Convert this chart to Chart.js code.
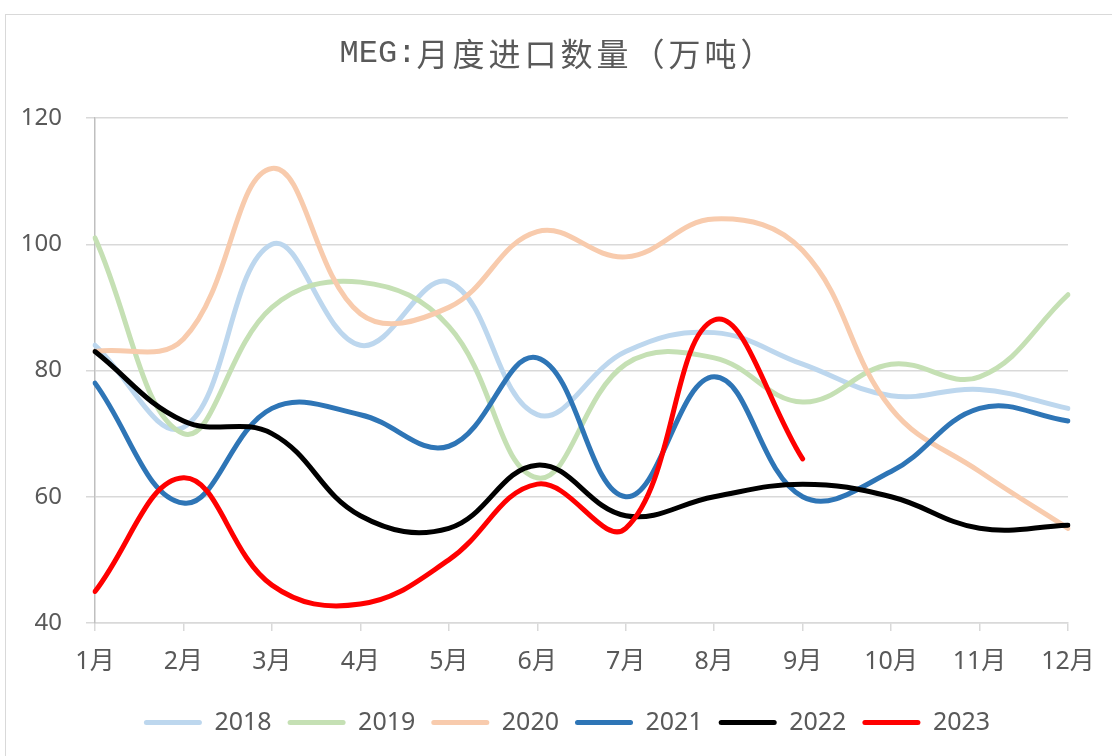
<!DOCTYPE html>
<html>
<head>
<meta charset="utf-8">
<script src="https://cdn.jsdelivr.net/npm/chart.js@4"></script>
<style>
  html, body { margin: 0; padding: 0; background: #fff; }
  #wrap { position: relative; width: 1112px; height: 756px; overflow: hidden; }
  #frame { position: absolute; left: 5px; top: 14px; width: 1200px; height: 800px; border: 1px solid #d9d9d9; }
  canvas { position: absolute; left: 0; top: 0; }
</style>
</head>
<body>
<div id="wrap">
  <div id="frame"></div>
  <canvas id="grafico" width="1112" height="756"></canvas>
</div>
<script>
// dados (万吨)
const meses = ['1月', '2月', '3月', '4月', '5月', '6月', '7月', '8月', '9月', '10月', '11月', '12月'];
const anos = ['2018', '2019', '2020', '2021', '2022', '2023'];
const v2018 = [84, 71, 100, 84, 94, 73, 83, 86, 81, 76, 77, 74];
const v2019 = [101, 70, 90, 94, 87, 63, 81, 82, 75, 81, 79, 92];
const v2020 = [83, 85, 112, 89, 90, 102, 98, 104, 99, 74, 64, 55];
const v2021 = [78, 59, 74, 73, 68, 82, 60, 79, 60, 64, 74, 72];
const v2022 = [83, 72, 70, 57, 55, 65, 57, 60, 62, 60, 55, 55.5];
const v2023 = [45, 63, 46, 43, 50, 62, 55, 88, 66];
const yTicks = [40, 60, 80, 100, 120];

const cores = ['#BDD7EE', '#C5E0B4', '#F8CBAD', '#2E75B6', '#000000', '#FF0000'];
const series = [v2018, v2019, v2020, v2021, v2022, v2023];

const corTexto = '#595959';
const fonteEixo = '"Noto Sans", "Noto Sans CJK SC", sans-serif';

// título com espaçamento entre letras
const tituloPlugin = {
  id: 'tituloEspacado',
  afterLayout(chart) {
    // legenda um pouco deslocada para a direita, como no original
    if (chart.legend) {
      chart.legend.left += 33;
      chart.legend.right += 33;
    }
  },
  afterDraw(chart) {
    const ctx = chart.ctx;
    const parte1 = 'MEG:';
    const parte2 = '月度进口数量（万吨）';
    const f1 = '32px "Liberation Mono", "Noto Sans CJK SC", monospace';
    const f2 = '32px "Noto Sans CJK SC", sans-serif';
    ctx.save();
    ctx.fillStyle = corTexto;
    ctx.textBaseline = 'middle';
    ctx.textAlign = 'left';
    ctx.font = f1;
    ctx.letterSpacing = '0px';
    const w1 = ctx.measureText(parte1).width;
    ctx.font = f2;
    ctx.letterSpacing = '4px';
    const w2 = ctx.measureText(parte2).width - 4;
    const inicio = 556 - (w1 + w2) / 2;
    ctx.font = f1;
    ctx.letterSpacing = '0px';
    ctx.fillText(parte1, inicio, 54);
    ctx.font = f2;
    ctx.letterSpacing = '4px';
    ctx.fillText(parte2, inicio + w1, 54);
    ctx.restore();
  }
};

const datasets = anos.map((ano, i) => ({
  label: ano,
  data: series[i],
  borderColor: cores[i],
  backgroundColor: cores[i],
  borderWidth: 5,
  borderCapStyle: 'round',
  borderJoinStyle: 'round',
  pointRadius: 0,
  tension: 0.4,
  fill: false,
  order: anos.length - 1 - i
}));

const ctx = document.getElementById('grafico').getContext('2d');
new Chart(ctx, {
  type: 'line',
  data: { labels: meses, datasets: datasets },
  plugins: [tituloPlugin],
  options: {
    responsive: false,
    animation: false,
    layout: { padding: { top: 118, right: 44, bottom: 11, left: 0 } },
    scales: {
      x: {
        offset: false,
        afterFit(scale) { scale.height = 71; },
        grid: { drawOnChartArea: false, drawTicks: true, tickLength: 8, color: '#d9d9d9', lineWidth: 1.5 },
        border: { color: '#d9d9d9', width: 1.5 },
        ticks: { color: corTexto, font: { family: fonteEixo, size: 25 }, padding: 16, maxRotation: 0, autoSkip: false }
      },
      y: {
        min: 40,
        max: 120,
        afterFit(scale) { scale.width = 95; },
        afterBuildTicks(scale) { scale.ticks = yTicks.map(v => ({ value: v })); },
        grid: { color: '#d9d9d9', lineWidth: 1.5, tickLength: 9 },
        border: { color: '#bfbfbf', width: 1.5 },
        ticks: { color: corTexto, font: { family: fonteEixo, size: 24 }, padding: 24 }
      }
    },
    plugins: {
      tooltip: { enabled: false },
      title: { display: false },
      legend: {
        position: 'bottom',
        labels: {
          color: corTexto,
          font: { family: fonteEixo, size: 25 },
          boxWidth: 58,
          boxHeight: 5,
          useBorderRadius: true,
          borderRadius: 2.5,
          padding: 16,
          generateLabels(chart) {
            const itens = Chart.defaults.plugins.legend.labels.generateLabels(chart);
            itens.forEach(it => { it.lineWidth = 0; });
            return itens;
          },
          sort: (a, b) => a.datasetIndex - b.datasetIndex
        }
      }
    }
  }
});
</script>
</body>
</html>
